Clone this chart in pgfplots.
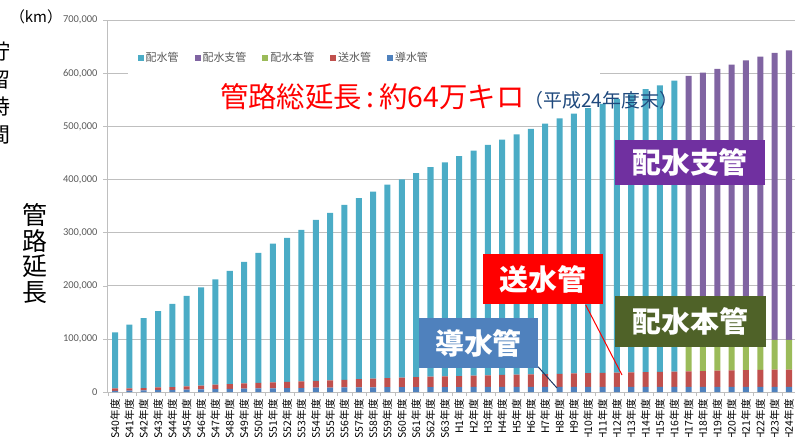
\documentclass[border=0pt]{standalone}
\usepackage{fontspec}
\usepackage{pgfplots}
\pgfplotsset{compat=1.18}
\usepackage{pgfplotstable}
\setmainfont{Carlito}
\newfontfamily\jp{Noto Sans CJK JP}
\definecolor{cyanbar}{HTML}{4BACC6}
\definecolor{purplebar}{HTML}{8064A2}
\definecolor{greenbar}{HTML}{9BBB59}
\definecolor{redbar}{HTML}{C0504D}
\definecolor{bluebar}{HTML}{4F81BD}
\definecolor{tickgray}{HTML}{595959}
\definecolor{gridgray}{HTML}{BFBFBF}
\definecolor{boxpurple}{HTML}{7030A0}
\definecolor{boxgreen}{HTML}{4F6228}
\definecolor{boxblue}{HTML}{4F81BD}
\definecolor{titleblue}{HTML}{1F497D}
\definecolor{navyline}{HTML}{1F3864}

\pgfplotstableread{
idx dou sou honkan shikan haisui
0 2000 5000 0 0 105000
1 2500 4500 0 0 120000
2 3000 4500 0 0 131500
3 3500 5000 0 0 143500
4 4000 5000 0 0 157000
5 4500 6000 0 0 170500
6 5000 7000 0 0 185000
7 5500 8500 0 0 198000
8 6000 9000 0 0 213000
9 6500 9500 0 0 229000
10 7000 10000 0 0 245000
11 7000 11000 0 0 261000
12 7500 11500 0 0 271000
13 7500 12500 0 0 285000
14 8000 13000 0 0 303000
15 8000 14000 0 0 315000
16 8500 14500 0 0 329000
17 8500 15500 0 0 341000
18 8500 16500 0 0 352000
19 9000 17000 0 0 364000
20 9000 18000 0 0 373000
21 9000 19000 0 0 384000
22 9000 20000 0 0 394000
23 9000 20500 0 0 402500
24 9000 21000 0 0 414000
25 9500 21500 0 0 423000
26 9500 22000 0 0 433500
27 9500 22500 0 0 443000
28 9500 23000 0 0 452500
29 9500 23500 0 0 462000
30 9500 24000 0 0 471500
31 9500 24500 0 0 481000
32 9500 25500 0 0 489000
33 9500 26000 0 0 498500
34 9500 26500 0 0 506000
35 9500 27000 0 0 514500
36 9500 27500 0 0 523000
37 9500 28000 0 0 532500
38 9500 28500 0 0 539000
39 9500 29000 0 0 547500
40 9500 29500 56000 500000 0
41 9500 30000 56000 505500 0
42 9500 30500 56000 512000 0
43 9500 31000 56000 519500 0
44 9500 31500 56000 527000 0
45 9500 32000 56000 533500 0
46 9500 32500 56000 540000 0
47 9500 32500 56000 545000 0
}\datatable

\pgfplotsset{
  mybar/.style={fill=#1, draw=none,
    legend image code/.code={\fill[##1] (0bp,-3bp) rectangle (6bp,3bp);}},
}

\begin{document}
\begin{tikzpicture}
\useasboundingbox (0,0) rectangle (800bp,437bp);
\begin{axis}[
  at={(107bp,45bp)}, anchor=south west,
  scale only axis, width=688bp, height=372bp,
  ybar stacked, bar width=0.42,
  xmin=-0.56, xmax=47.42, ymin=0, ymax=700000,
  axis x line=bottom, axis y line=left,
  axis line style={-, draw=gridgray},
  ymajorgrids, grid style={draw=gridgray, line width=0.6pt},
  ytick={0,100000,...,700000},
  scaled y ticks=false,
  tick align=outside,
  major tick length=4bp, minor tick length=4bp,
  ytick style={draw=gridgray},
  yticklabel style={font=\fontsize{10.5}{10.5}\selectfont, text=tickgray, xshift=-2bp,
    /pgf/number format/.cd, fixed, 1000 sep={,}, assume math mode=true},
  xtick={0,...,47},
  major x tick style={draw=none},
  minor xtick={-0.5,0.5,...,47.5},
  minor x tick style={draw=gridgray},
  xticklabels={S40年度,S41年度,S42年度,S43年度,S44年度,S45年度,S46年度,S47年度,S48年度,S49年度,S50年度,S51年度,S52年度,S53年度,S54年度,S55年度,S56年度,S57年度,S58年度,S59年度,S60年度,S61年度,S62年度,S63年度,H1年度,H2年度,H3年度,H4年度,H5年度,H6年度,H7年度,H8年度,H9年度,H10年度,H11年度,H12年度,H13年度,H14年度,H15年度,H16年度,H17年度,H18年度,H19年度,H20年度,H21年度,H22年度,H23年度,H24年度},
  xticklabel style={rotate=90, anchor=east, font=\jp\fontsize{10.5}{10.5}\selectfont, text=black, xshift=0bp},
  reverse legend,
  legend columns=5,
  legend style={draw=none, fill=none, at={(0.04,0.898)}, anchor=west,
    font=\jp\fontsize{11}{11}\selectfont, text=tickgray,
    /tikz/every even column/.append style={column sep=14bp}},
  clip=false,
]
\addplot[mybar=bluebar] table[x=idx,y=dou]{\datatable};
\addlegendentry{導水管}
\addplot[mybar=redbar] table[x=idx,y=sou]{\datatable};
\addlegendentry{送水管}
\addplot[mybar=greenbar] table[x=idx,y=honkan]{\datatable};
\addlegendentry{配水本管}
\addplot[mybar=purplebar] table[x=idx,y=shikan]{\datatable};
\addlegendentry{配水支管}
\addplot[mybar=cyanbar] table[x=idx,y=haisui]{\datatable};
\addlegendentry{配水管}
\fill[white] (rel axis cs:0.031,0.839) rectangle (rel axis cs:0.716,0.952);
\end{axis}

% left texts
\node at (36bp,420bp) {\jp\fontsize{15}{15}\selectfont （km）};
\node[align=center, font=\jp\fontsize{21}{27.5}\selectfont] at (0bp,344bp) {貯\\留\\時\\間};
\node[align=center, font=\jp\fontsize{25}{26}\selectfont] at (35bp,183.5bp) {管\\路\\延\\長};

% title
\node[anchor=west, inner sep=0pt] at (220bp,340bp) {{\jp\color{red}\fontsize{28.5}{28.5}\selectfont 管路総延長\,:\,約64万キロ}{\jp\color{titleblue}\fontsize{19}{19}\selectfont（平成24年度末）}};

% leader lines
\draw[red, line width=1pt] (585.7bp,132bp) -- (622bp,62bp);
\draw[navyline, line width=1pt] (538bp,70.3bp) -- (557bp,49bp);

% boxes
\fill[boxpurple] (615bp,252bp) rectangle (765bp,297bp);
\node[text=white, font=\jp\bfseries\fontsize{29}{29}\selectfont] at (690bp,274.5bp) {配水支管};
\fill[red] (483bp,133bp) rectangle (603bp,183bp);
\node[text=white, font=\jp\bfseries\fontsize{29}{29}\selectfont] at (543bp,158bp) {送水管};
\fill[boxgreen] (615bp,90bp) rectangle (766bp,141bp);
\node[text=white, font=\jp\bfseries\fontsize{29}{29}\selectfont] at (690.5bp,115.5bp) {配水本管};
\fill[boxblue] (419bp,69bp) rectangle (538bp,119bp);
\node[text=white, font=\jp\bfseries\fontsize{29}{29}\selectfont] at (478.5bp,94bp) {導水管};
\end{tikzpicture}
\end{document}
